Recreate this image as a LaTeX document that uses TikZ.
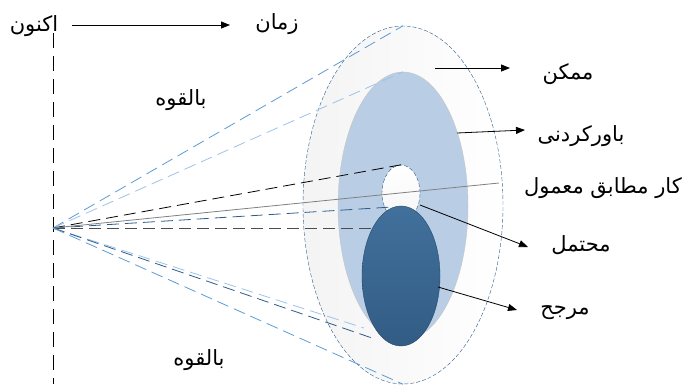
\documentclass[tikz,border=0pt]{standalone}
\usepackage{fontspec}
\newfontfamily\fa[Script=Arabic]{DejaVu Sans}
\TeXXeTstate=1
\usetikzlibrary{arrows.meta,shapes.geometric}
\definecolor{rimblue}{HTML}{2E5C8A}
\definecolor{midblue}{HTML}{5B9BD5}
\definecolor{paleblue}{HTML}{9DC3E6}
\definecolor{deeptop}{HTML}{41709C}
\definecolor{deepbot}{HTML}{325C84}
\definecolor{believe}{HTML}{B9CDE5}

\begin{document}
\begin{tikzpicture}[x=1pt,y=-1pt,
  lbl/.style={font=\fa\fontsize{21}{24}\selectfont,inner sep=0pt},
  ell/.style={ellipse,inner sep=0pt},
  dsh/.style={dash pattern=on 12pt off 6pt,line width=.8pt},
  arr/.style={-{Triangle[length=9pt,width=7pt]},line width=.8pt}]
\useasboundingbox(0,0)rectangle(687,384);
% cones
\node[ell,draw=rimblue,dash pattern=on 4pt off 2pt,left color=gray!9,right color=white,minimum width=200pt,minimum height=358pt](outer)at(403,205){};
\node[ell,draw=gray!45,fill=believe,minimum width=130pt,minimum height=268pt](middle)at(403,206){};
\node[ell,draw=rimblue,dash pattern=on 4pt off 2pt,top color=white,bottom color=gray!8,minimum width=38pt,minimum height=56pt](hole)at(401,193){};
\node[ell,draw=deepbot!80!black,top color=deeptop,bottom color=deepbot,minimum width=78pt,minimum height=140pt](likely)at(401,276){};
% now line
\coordinate(apex)at(53,228);\coordinate(nowtop)at(53,33);\coordinate(nowbot)at(53,384);
\draw[dash pattern=on 15pt off 8pt,line width=.8pt](nowtop)--(nowbot);
\coordinate(e1)at(392,207);\coordinate(e2)at(373,228);\coordinate(e3)at(499,183);
\coordinate(e4)at(364,328);\coordinate(e5)at(372,338);
\draw[dsh,midblue](apex)--(outer.north);
\draw[dsh,paleblue](apex)--(middle.north);
\draw[dsh,black](apex)--(hole.north);
\draw[dsh,rimblue](apex)--(e1);
\draw[dsh,gray!60!black](apex)--(e2);
\draw[gray,line width=.8pt](apex)--(e3);
\draw[dsh,paleblue](apex)--(e4);
\draw[dsh,rimblue](apex)--(e5);
\draw[dsh,midblue](apex)--(outer.south);
% labels
\node[lbl](now)at(34,26){\beginR اکنون\endR};
\node[lbl](time)at(277,24){\beginR زمان\endR};
\node[lbl](pot1)at(181,100){\beginR بالقوه\endR};
\node[lbl](pot2)at(199,360){\beginR بالقوه\endR};
\node[lbl](poss)at(568,74){\beginR ممکن\endR};
\node[lbl](plaus)at(581,136){\beginR باورکردنی\endR};
\node[lbl](usual)at(603,188){\beginR کار مطابق معمول\endR};
\node[lbl](prob)at(581,245){\beginR محتمل\endR};
\node[lbl](pref)at(565,313){\beginR مرجح\endR};
\coordinate(ts)at(72,25);\coordinate(te)at(230,25);
\draw[arr](ts)--(te);
\foreach\a/\b/\c/\d in{435/68/510/68,457/133/525/130,420/205/528/247,438/287/517/310}
  {\coordinate(s)at(\a,\b);\coordinate(t)at(\c,\d);\draw[arr](s)--(t);}
\end{tikzpicture}
\end{document}
